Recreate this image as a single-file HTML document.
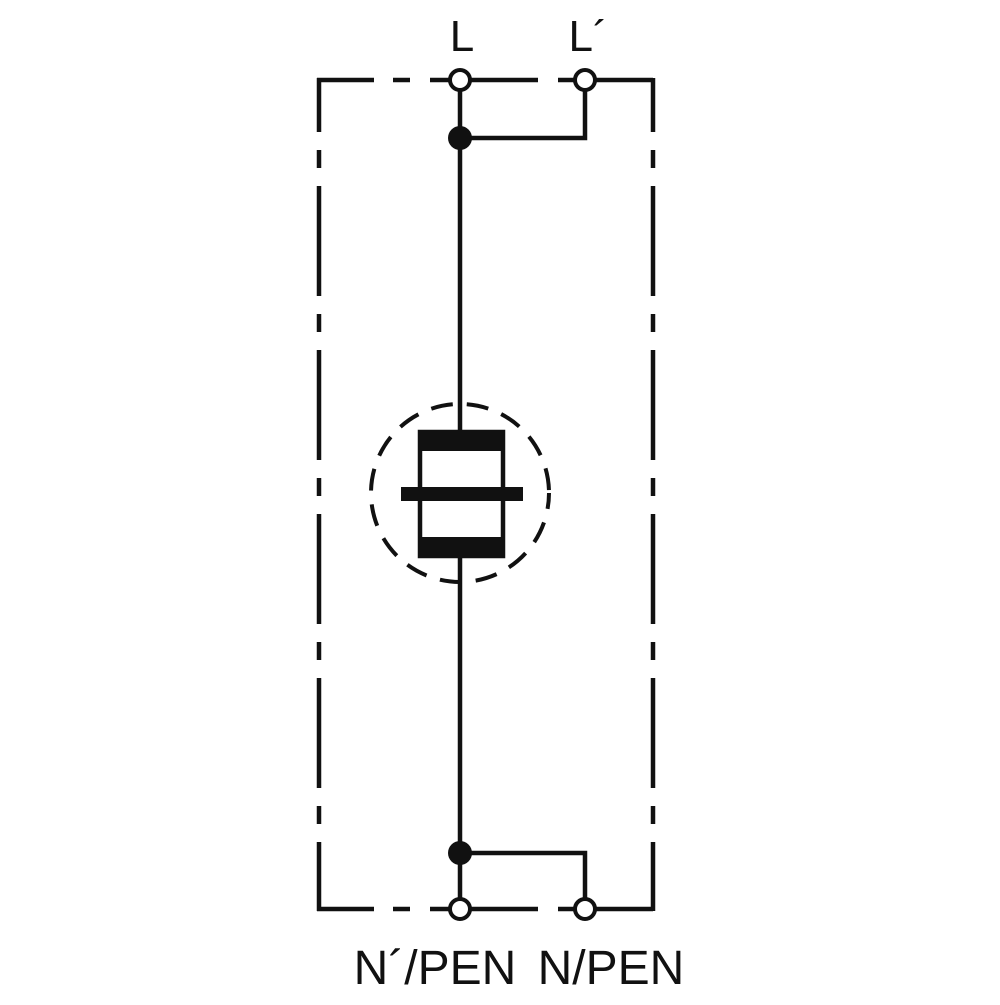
<!DOCTYPE html>
<html><head><style>html,body{margin:0;padding:0;background:#fff}</style></head><body>
<svg width="1000" height="1000" viewBox="0 0 1000 1000" xmlns="http://www.w3.org/2000/svg">
<g stroke="#111" stroke-width="4.5" fill="none">
<!-- top dashed line -->
<path d="M317 80 H374 M393 80 H410 M430 80 H449 M471 80 H538 M558 80 H574 M596 80 H653"/>
<path d="M317 909 H374 M393 909 H410 M430 909 H449 M471 909 H538 M558 909 H574 M596 909 H653"/>
<!-- sides -->
<path d="M319 78 V911" stroke-dasharray="110 18 18 18" stroke-dashoffset="56"/>
<path d="M653 78 V911" stroke-dasharray="110 18 18 18" stroke-dashoffset="56"/>
<!-- main vertical -->
<path d="M460 91 V430 M460 558 V898"/>
<path d="M460 138 H585 V91"/>
<path d="M460 853 H585 V898"/>
<!-- GDT -->
<rect x="420" y="432" width="83" height="124"/>
<circle cx="460" cy="493" r="89" stroke-width="4" stroke-dasharray="22 14" stroke-dashoffset="6"/>
</g>
<g fill="#111">
<rect x="418" y="430" width="87" height="21"/>
<rect x="418" y="537" width="87" height="21"/>
<rect x="401" y="487" width="122" height="14"/>
<circle cx="460" cy="138" r="12"/>
<circle cx="460" cy="853" r="12"/>
</g>
<g fill="#fff" stroke="#111" stroke-width="4">
<circle cx="460" cy="80" r="10"/>
<circle cx="585" cy="80" r="10"/>
<circle cx="460" cy="909" r="10"/>
<circle cx="585" cy="909" r="10"/>
</g>
<g font-family="'Liberation Sans Narrow','Liberation Sans',sans-serif" fill="#111" text-anchor="middle">
<text x="462" y="51" font-size="44">L</text>
<text x="588" y="51" font-size="44">L´</text>
<text x="435" y="984" font-size="48">N´/PEN</text>
<text x="611" y="984" font-size="48">N/PEN</text>
</g>
</svg>
</body></html>
